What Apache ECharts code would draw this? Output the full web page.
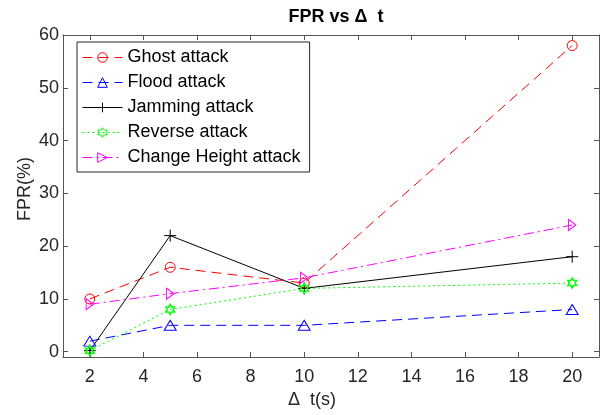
<!DOCTYPE html>
<html>
<head>
<meta charset="utf-8">
<script src="https://cdn.jsdelivr.net/npm/echarts@6/dist/echarts.min.js"></script>
<style>html,body{margin:0;padding:0;background:#fff}#c{width:603px;height:415px}</style>
</head>
<body>
<div id="c"></div>
<script>
const xValues = [2, 5, 10, 20];
const seriesNames = ['Ghost attack', 'Flood attack', 'Jamming attack', 'Reverse attack', 'Change Height attack'];
const ghost = [10, 16, 13, 58];
const flood = [2, 5, 5, 8];
const jamming = [0.2, 22, 12, 18];
const reverse = [0.2, 8, 12, 13];
const changeHeight = [9, 11, 14, 24];
const xTicks = [2, 4, 6, 8, 10, 12, 14, 16, 18, 20];
const yTicks = [0, 10, 20, 30, 40, 50, 60];

const FONT = 'Liberation Sans, Arial, Helvetica, sans-serif';
const AX = '#555555';
const TXT = '#262626';

const hexagram = 'path://M0,-10 L-2.887,-5 L-8.66,-5 L-5.774,0 L-8.66,5 L-2.887,5 L0,10 L2.887,5 L8.66,5 L5.774,0 L8.66,-5 L2.887,-5 Z';
const plus = 'path://M0,-6 L0,6 M-6,0 L6,0';
const rightTri = 'path://M0,0 L9,5.5 L0,11 Z';

function pairs(ys) { return xValues.map((x, i) => [x, ys[i]]); }

function mk(name, ys, color, type, symbol, size, bw) {
  return {
    name: name, type: 'line', data: pairs(ys),
    xAxisIndex: 0, yAxisIndex: 0,
    symbol: symbol, symbolSize: size, symbolKeepAspect: true,
    color: color,
    lineStyle: { color: color, width: 1, type: type },
    itemStyle: { color: 'rgba(255,255,255,0)', borderColor: color, borderWidth: bw },
    emphasis: { disabled: true },
    animation: false, z: 3
  };
}

const chart = echarts.init(document.getElementById('c'), null, { renderer: 'canvas' });
const tickStyle = { show: true, inside: true, length: 5, lineStyle: { color: AX, width: 1 } };
chart.setOption({
  backgroundColor: '#fff',
  animation: false,
  textStyle: { fontFamily: FONT },
  title: {
    text: 'FPR vs Δ  t', left: 331, top: 3, textAlign: 'center',
    textStyle: { fontFamily: FONT, fontSize: 18, fontWeight: 'bold', color: '#000' }
  },
  grid: { left: 63, right: 4, top: 35, bottom: 58, containLabel: false },
  legend: {
    orient: 'vertical', left: 77, top: 42,
    data: seriesNames,
    itemWidth: 40, itemHeight: 12, itemGap: 6,
    padding: [6, 9, 5, 5],
    borderColor: '#262626', borderWidth: 1, backgroundColor: '#fff',
    itemStyle: { borderWidth: 1 },
    lineStyle: { width: 1 },
    textStyle: { fontFamily: FONT, fontSize: 18, color: '#000', lineHeight: 19 },
    selectedMode: false
  },
  xAxis: [
    {
      type: 'value', min: 1, max: 21, position: 'bottom',
      name: 'Δ  t(s)', nameLocation: 'middle', nameGap: 32,
      nameTextStyle: { fontFamily: FONT, fontSize: 18, color: TXT, padding: [0, 38, 0, 0] },
      axisLine: { show: true, onZero: false, lineStyle: { color: AX, width: 1 } },
      axisTick: Object.assign({ customValues: xTicks }, tickStyle),
      axisLabel: { customValues: xTicks, fontFamily: FONT, fontSize: 18, color: TXT, margin: 11 },
      splitLine: { show: false }
    },
    {
      type: 'value', min: 1, max: 21, position: 'top',
      axisLine: { show: true, onZero: false, lineStyle: { color: AX, width: 1 } },
      axisTick: Object.assign({ customValues: xTicks }, tickStyle),
      axisLabel: { show: false },
      splitLine: { show: false }
    }
  ],
  yAxis: [
    {
      type: 'value', min: -1, max: 60, position: 'left',
      name: 'FPR(%)', nameLocation: 'middle', nameGap: 29, nameMoveOverlap: false,
      nameTextStyle: { fontFamily: FONT, fontSize: 18, color: TXT, padding: [0, 0, 0, 14] },
      axisLine: { show: true, onZero: false, lineStyle: { color: AX, width: 1 } },
      axisTick: Object.assign({ customValues: yTicks }, tickStyle),
      axisLabel: { customValues: yTicks, fontFamily: FONT, fontSize: 18, color: TXT, margin: 4 },
      splitLine: { show: false }
    },
    {
      type: 'value', min: -1, max: 60, position: 'right',
      axisLine: { show: true, onZero: false, lineStyle: { color: AX, width: 1 } },
      axisTick: Object.assign({ customValues: yTicks }, tickStyle),
      axisLabel: { show: false },
      splitLine: { show: false }
    }
  ],
  series: [
    mk(seriesNames[0], ghost, '#FF0000', [10, 6], 'circle', 10, 1),
    mk(seriesNames[1], flood, '#0000FF', [10, 6], 'triangle', [12, 10], 1),
    mk(seriesNames[2], jamming, '#000000', 'solid', plus, 12, 1),
    mk(seriesNames[3], reverse, '#00FF00', [2, 3], hexagram, 10, 1.5),
    mk(seriesNames[4], changeHeight, '#FF00FF', [10, 4, 2, 4], rightTri, [9, 11], 1)
  ]
});
</script>
</body>
</html>
